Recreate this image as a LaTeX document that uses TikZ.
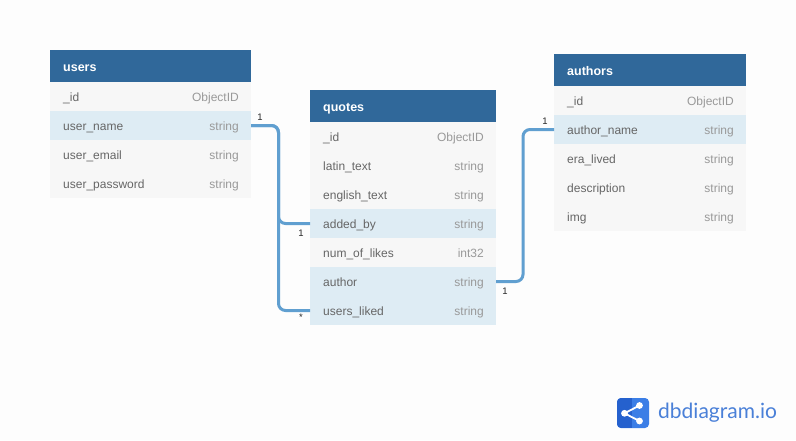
\documentclass[tikz,border=0pt]{standalone}
\usepackage{fontspec}
\setmainfont{Liberation Sans}
\newfontfamily\logofont{Lato}
\usepackage{tikz}

\definecolor{headblue}{HTML}{30689A}
\definecolor{rowgray}{HTML}{F7F7F7}
\definecolor{rowblue}{HTML}{DEECF4}
\definecolor{relblue}{HTML}{609FD0}
\definecolor{pagegray}{HTML}{FDFDFD}
\definecolor{namegray}{HTML}{666666}
\definecolor{typegray}{HTML}{999999}
\definecolor{logoblue}{HTML}{3B7EE6}
\definecolor{logodark}{HTML}{2561CE}
\definecolor{logotext}{HTML}{4A80D8}

\tikzset{
  tablehead/.style={fill=headblue,anchor=north west,minimum height=32pt,inner sep=0pt,outer sep=0pt},
  tabletitle/.style={anchor=west,xshift=13pt,inner sep=0pt,text=white,text height=14pt,text depth=2.5pt,
    font=\bfseries\fontsize{12.5}{15}\selectfont},
  tablerow/.style={anchor=north west,minimum height=29pt,inner sep=0pt,outer sep=0pt},
  fieldname/.style={anchor=west,xshift=13pt,inner sep=0pt,text=namegray,text height=13pt,text depth=4pt,
    font=\fontsize{12}{14}\selectfont},
  fieldtype/.style={anchor=east,xshift=-12pt,inner sep=0pt,text=typegray,text height=13pt,text depth=4pt,
    font=\fontsize{12}{14}\selectfont},
  relline/.style={draw=relblue,line width=3pt,rounded corners=7pt},
  cardlabel/.style={inner sep=0pt,text=black!85,font=\fontsize{9.5}{11}\selectfont},
}

% name, x, y, width, title, rows
\newcommand\dbtable[6]{
  \node[tablehead,minimum width=#4pt] (#1) at (#2,#3) {};
  \node[tabletitle] (#1-title) at (#1.west) {#5};
  \foreach \fname/\ftype/\fcol [count=\k] in {#6} {
    \pgfmathsetmacro\rowy{#3 + 32 + (\k-1)*29}
    \node[tablerow,fill=\fcol,minimum width=#4pt] (#1-\k) at (#2,\rowy) {};
    \node[fieldname] (#1-\k-name) at (#1-\k.west) {\fname};
    \node[fieldtype] (#1-\k-type) at (#1-\k.east) {\ftype};
  }
}

\begin{document}
\begin{tikzpicture}[x=1pt,y=-1pt]
\useasboundingbox (0,0) rectangle (796,440);
\fill[pagegray] (0,0) rectangle (796,440);

\dbtable{users}{50}{50}{201}{users}{\_id/ObjectID/rowgray,user\_name/string/rowblue,user\_email/string/rowgray,user\_password/string/rowgray}
\dbtable{quotes}{310}{90}{186}{quotes}{\_id/ObjectID/rowgray,latin\_text/string/rowgray,english\_text/string/rowgray,added\_by/string/rowblue,num\_of\_likes/int32/rowgray,author/string/rowblue,users\_liked/string/rowblue}
\dbtable{authors}{554}{54}{192}{authors}{\_id/ObjectID/rowgray,author\_name/string/rowblue,era\_lived/string/rowgray,description/string/rowgray,img/string/rowgray}

\coordinate (busleft) at (278.5,200);
\coordinate (busright) at (523,200);
\draw[relline] (users-2.east) -- (busleft |- users-2.east) -- (busleft |- quotes-4.west) -- (quotes-4.west);
\draw[relline] (users-2.east) -- (busleft |- users-2.east) -- (busleft |- quotes-7.west) -- (quotes-7.west);
\draw[relline] (quotes-6.east) -- (busright |- quotes-6.east) -- (busright |- authors-2.west) -- (authors-2.west);

\node[cardlabel] (carda) at (260,117) {1};
\node[cardlabel] (cardb) at (301,233) {1};
\node[cardlabel] (cardc) at (301,317) {*};
\node[cardlabel] (cardd) at (505,291) {1};
\node[cardlabel] (carde) at (545,121) {1};

% logo
\fill[logoblue,rounded corners=4pt] (617,398) rectangle (649,428);
\begin{scope}
\clip[rounded corners=4pt] (617,398) rectangle (649,428);
\fill[logodark] (617,398) rectangle (632,428);
\end{scope}
\draw[white,line width=1.8pt] (639.5,405.5) -- (624.5,413.3) -- (639.5,421);
\foreach \cx/\cy/\cr in {639.5/405.5/3.4,624.5/413.3/3.4,639.5/421/3.4} {
  \fill[white] (\cx,\cy) circle (\cr);
}
\node[anchor=west,inner sep=0pt,text=logotext,font=\logofont\fontsize{21}{25}\selectfont] (logotext) at (658,413) {dbdiagram.io};
\end{tikzpicture}
\end{document}
